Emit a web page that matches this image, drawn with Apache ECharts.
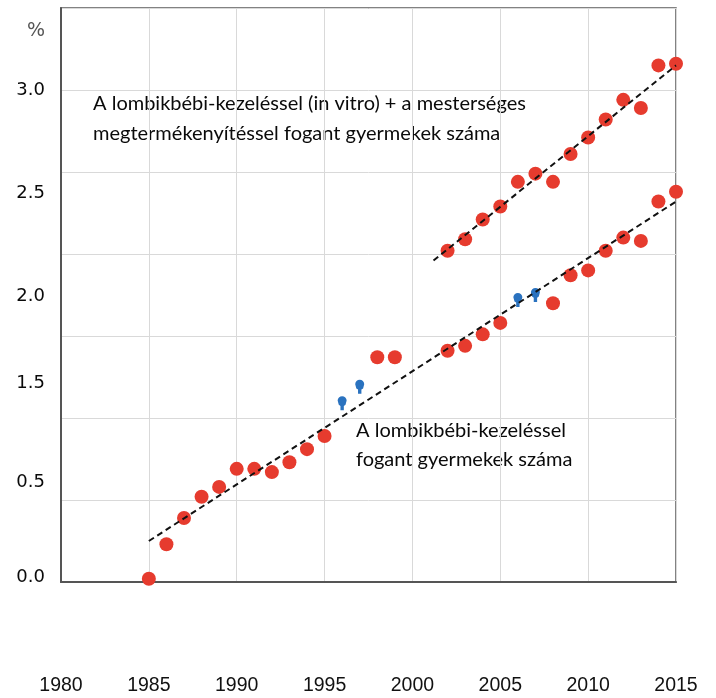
<!DOCTYPE html>
<html>
<head>
<meta charset="utf-8">
<script src="https://cdn.jsdelivr.net/npm/echarts@6/dist/echarts.min.js"></script>
<style>
html, body { margin: 0; padding: 0; background: #fff; }
#chart { width: 716px; height: 698px; }
</style>
</head>
<body>
<div id="chart"></div>
<script>
//adatok
var ivfYears = [1985, 1986, 1987, 1988, 1989, 1990, 1991, 1992, 1993, 1994, 1995, 1998, 1999,
	2002, 2003, 2004, 2005, 2008, 2009, 2010, 2011, 2012, 2013, 2014, 2015];
var ivfValues = [0.02, 0.23, 0.39, 0.52, 0.58, 0.69, 0.69, 0.67, 0.73, 0.81, 0.89, 1.37, 1.37,
	1.41, 1.44, 1.51, 1.58, 1.70, 1.87, 1.90, 2.02, 2.10, 2.08, 2.32, 2.38];
var totalYears = [2002, 2003, 2004, 2005, 2006, 2007, 2008, 2009, 2010, 2011, 2012, 2013, 2014, 2015];
var totalValues = [2.02, 2.09, 2.21, 2.29, 2.44, 2.49, 2.44, 2.61, 2.71, 2.82, 2.94, 2.89, 3.15, 3.16];
var blueYears = [1996, 1997, 2006, 2007];
var blueValues = [1.09, 1.19, 1.72, 1.75];
var trendLowYears = [1985, 2015];
var trendLowValues = [0.25, 2.32];
var trendHighYears = [2001.2, 2015];
var trendHighValues = [1.96, 3.15];
//y tengely feliratai (az eredetin elcsúszva)
var yLabelTexts = ['0.0', '0.5', '1.5', '2.0', '2.5', '3.0', '%'];
var yLabelValues = [0.03, 0.61, 1.21, 1.74, 2.37, 3.0, 3.36];
var xTicks = [1980, 1985, 1990, 1995, 2000, 2005, 2010, 2015];

function pairs(xs, ys) {
	var out = [];
	for (var i = 0; i < xs.length; i++) out.push([xs[i], ys[i]]);
	return out;
}

var myChart = echarts.init(document.getElementById('chart'));
var option = {
	animation: false,
	grid: {
		left: 61, right: 40, top: 8, bottom: 116,
		show: true, borderColor: '#5a5a5a', borderWidth: 1.5
	},
	xAxis: {
		type: 'value',
		min: xTicks[0], max: xTicks[xTicks.length - 1], interval: 5,
		axisLine: { show: true, lineStyle: { color: '#555', width: 2 } },
		axisTick: { show: false },
		splitLine: { show: true, lineStyle: { color: '#d9d9d9', width: 1 } },
		axisLabel: {
			margin: 94,
			fontFamily: 'Liberation Sans', fontSize: 19.5, color: '#111',
			formatter: function (v) { return String(v); }
		}
	},
	yAxis: [{
		type: 'value',
		min: 0, max: 3.5, interval: 0.5,
		axisLine: { show: true, lineStyle: { color: '#555', width: 2 } },
		axisTick: { show: false },
		splitLine: { show: true, lineStyle: { color: '#d9d9d9', width: 1 } },
		axisLabel: { show: false }
	}, {
		type: 'value',
		position: 'left',
		min: 0, max: 3.5,
		axisLine: { show: false },
		axisTick: { show: false },
		splitLine: { show: false },
		axisLabel: {
			margin: 16,
			customValues: yLabelValues,
			fontFamily: 'DejaVu Sans', fontSize: 18, color: '#0a0a0a',
			formatter: function (v) {
				var i = yLabelValues.indexOf(v);
				var t = i < 0 ? '' : yLabelTexts[i];
				return t == '%' ? '{p|%}' : t;
			},
			rich: { p: { fontFamily: 'DejaVu Sans', fontSize: 19, color: '#555' } }
		}
	}],
	graphic: [{
		type: 'text', left: 93, top: 89,
		style: {
			text: 'A lombikbébi-kezeléssel (in vitro) + a mesterséges\nmegtermékenyítéssel fogant gyermekek száma',
			font: '20px Lato', fill: '#0a0a0a', lineHeight: 30
		}
	}, {
		type: 'text', left: 356, top: 416,
		style: {
			text: 'A lombikbébi-kezeléssel\nfogant gyermekek száma',
			font: '20px Lato', fill: '#0a0a0a', lineHeight: 29
		}
	}],
	series: [{
		name: 'kék',
		type: 'scatter',
		symbol: 'path://M0,4 A4,4 0 0 1 8,4 L7,8 L5.5,9 L5.5,13 L2.5,13 L2.5,9 L1,8 Z',
		symbolSize: [9, 14],
		itemStyle: { color: '#2a72bf', opacity: 1 },
		clip: false,
		data: pairs(blueYears, blueValues)
	}, {
		name: 'lombikbébi',
		type: 'scatter',
		symbolSize: 14,
		itemStyle: { color: '#e63b2e', opacity: 1 },
		clip: false,
		data: pairs(ivfYears, ivfValues)
	}, {
		name: 'lombikbébi + mesterséges',
		type: 'scatter',
		symbolSize: 14,
		itemStyle: { color: '#e63b2e', opacity: 1 },
		clip: false,
		data: pairs(totalYears, totalValues)
	}, {
		name: 'trend1',
		type: 'line',
		symbol: 'none',
		z: 5,
		lineStyle: { color: '#111', width: 2, type: [6, 4] },
		data: pairs(trendLowYears, trendLowValues)
	}, {
		name: 'trend2',
		type: 'line',
		symbol: 'none',
		z: 5,
		lineStyle: { color: '#111', width: 2, type: [6, 4] },
		data: pairs(trendHighYears, trendHighValues)
	}]
};
myChart.setOption(option);
</script>
</body>
</html>
